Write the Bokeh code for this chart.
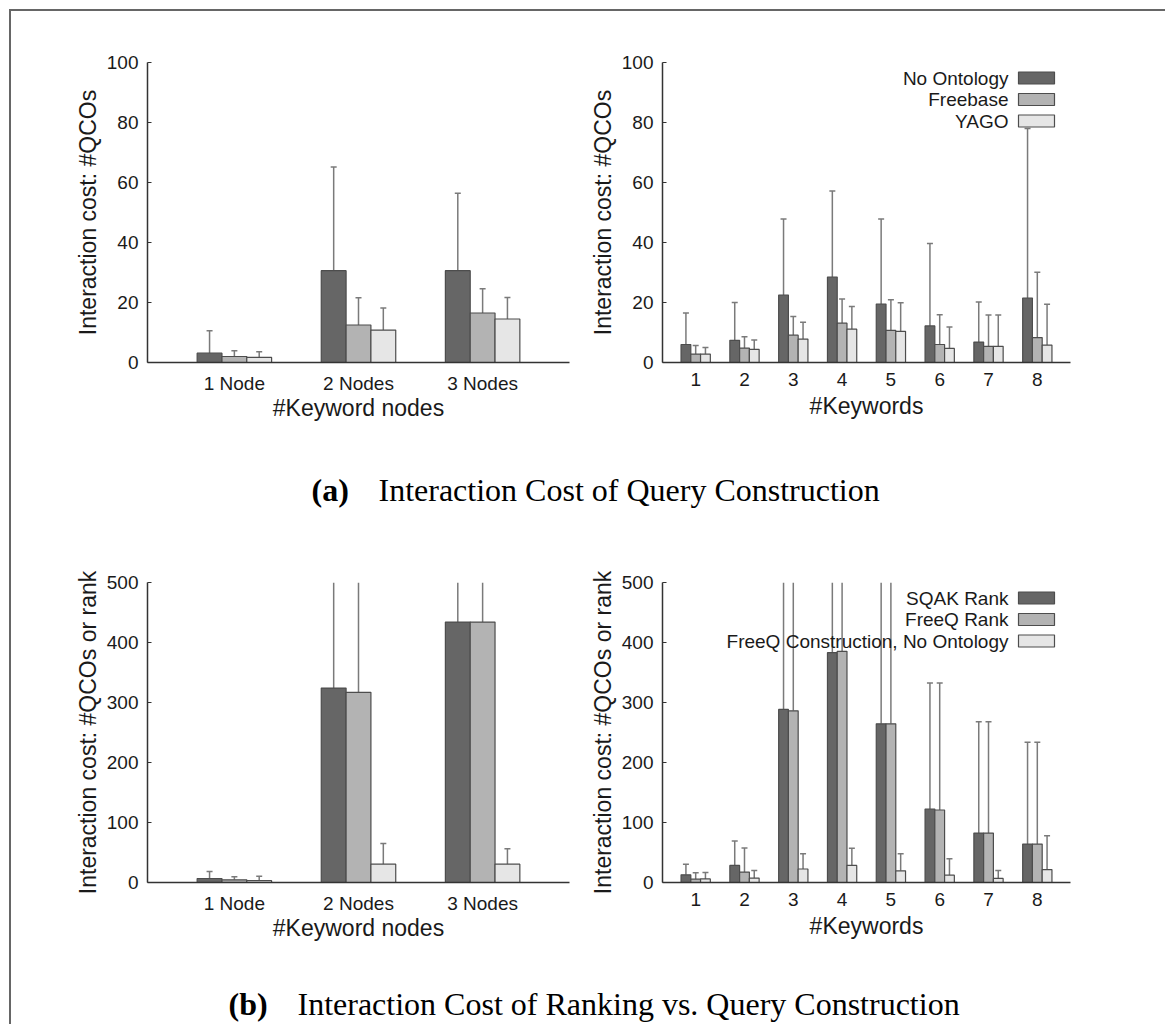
from bokeh.embed import file_html
from bokeh.layouts import column, row
from bokeh.models import FixedTicker, Label, Range1d
from bokeh.plotting import figure
from bokeh.resources import INLINE

# ---------------------------------------------------------------- data
node_labels = ["1 Node", "2 Nodes", "3 Nodes"]
keyword_labels = ["1", "2", "3", "4", "5", "6", "7", "8"]

construction_series = ["No Ontology", "Freebase", "YAGO"]
ranking_series = ["SQAK Rank", "FreeQ Rank", "FreeQ Construction, No Ontology"]

# query construction cost (#QCOs): mean and upper end of the error bar
nodes_no_ontology = [3.1, 30.6, 30.6]
nodes_no_ontology_hi = [10.6, 65.2, 56.4]
nodes_freebase = [2.0, 12.5, 16.5]
nodes_freebase_hi = [3.9, 21.6, 24.6]
nodes_yago = [1.7, 10.8, 14.5]
nodes_yago_hi = [3.6, 18.2, 21.7]

kw_no_ontology = [6.0, 7.4, 22.5, 28.5, 19.5, 12.2, 6.8, 21.5]
kw_no_ontology_hi = [16.5, 20.0, 47.8, 57.2, 47.8, 39.7, 20.2, 78.0]
kw_freebase = [2.8, 4.8, 9.1, 13.1, 10.7, 6.0, 5.4, 8.3]
kw_freebase_hi = [5.7, 8.6, 15.3, 21.2, 20.9, 15.9, 15.8, 30.1]
kw_yago = [2.8, 4.4, 7.8, 11.1, 10.4, 4.7, 5.4, 5.8]
kw_yago_hi = [5.0, 7.5, 13.4, 18.7, 19.9, 11.8, 15.8, 19.4]

# rank of the intended query; upper bounds of 500 run off the top of the axis
nodes_sqak_rank = [6.7, 324.0, 434.0]
nodes_sqak_rank_hi = [18.4, 500.0, 500.0]
nodes_freeq_rank = [4.5, 317.0, 434.0]
nodes_freeq_rank_hi = [9.5, 500.0, 500.0]

kw_sqak_rank = [12.8, 28.4, 288.4, 383.1, 264.5, 122.5, 82.4, 64.0]
kw_sqak_rank_hi = [30.6, 69.0, 500.0, 500.0, 500.0, 332.4, 267.8, 233.9]
kw_freeq_rank = [5.6, 17.3, 286.2, 385.3, 264.5, 120.8, 82.4, 64.0]
kw_freeq_rank_hi = [16.1, 57.3, 500.0, 500.0, 500.0, 332.4, 267.8, 233.9]

# ---------------------------------------------------------------- style
FILLS = ["#666666", "#b3b3b3", "#e6e6e6"]
EDGE = "#4d4d4d"
ERR = "#7a7a7a"
AXIS = "#333333"
TEXT = "#1a1a1a"
SANS = "Liberation Sans"
SERIF = "Liberation Serif"
FRAME_H = 300
BAR_W = 0.2


def panel(labels, means, highs, y_max, y_step, y_label, x_label, x_range,
          frame_w, border_l, border_r, border_t, x_label_gap, legend=None):
    n = len(labels)
    p = figure(frame_width=frame_w, frame_height=FRAME_H,
               x_range=Range1d(*x_range), y_range=Range1d(0, y_max),
               output_backend="svg", toolbar_location=None,
               min_border_left=border_l, min_border_right=border_r,
               min_border_top=border_t, min_border_bottom=58)
    p.outline_line_color = None
    p.grid.visible = False
    p.background_fill_color = "white"
    p.border_fill_color = "white"

    for k, (m, h) in enumerate(zip(means, highs)):
        xs = [i + 1 + (k - 1) * BAR_W for i in range(n)]
        tops = [min(v, y_max) for v in h]
        p.segment(x0=xs, y0=m, x1=xs, y1=tops, line_color=ERR, line_width=1.5)
        cap_x = [x for x, v in zip(xs, h) if v < y_max]
        cap_y = [v for v in h if v < y_max]
        p.scatter(cap_x, cap_y, marker="dash", size=6, line_color=ERR, line_width=1.5)
        p.vbar(x=xs, top=m, bottom=0, width=BAR_W, fill_color=FILLS[k],
               line_color=EDGE, line_width=1.2)

    xa = p.xaxis[0]
    xa.ticker = FixedTicker(ticks=list(range(1, n + 1)))
    xa.major_label_overrides = {i + 1: lab for i, lab in enumerate(labels)}
    xa.major_tick_line_color = None
    xa.minor_tick_line_color = None
    xa.axis_line_color = AXIS
    xa.axis_line_width = 1.5
    xa.major_label_standoff = 4
    xa.major_label_text_font = SANS
    xa.major_label_text_font_size = "19px"
    xa.major_label_text_color = TEXT
    xa.axis_label = x_label
    xa.axis_label_standoff = x_label_gap
    xa.axis_label_text_font = SANS
    xa.axis_label_text_font_size = "23px"
    xa.axis_label_text_font_style = "normal"
    xa.axis_label_text_color = TEXT

    ya = p.yaxis[0]
    ya.ticker = FixedTicker(ticks=list(range(0, y_max + 1, y_step)))
    ya.major_tick_in = 4
    ya.major_tick_out = 0
    ya.major_tick_line_color = AXIS
    ya.major_tick_line_width = 1.2
    ya.minor_tick_line_color = None
    ya.axis_line_color = AXIS
    ya.axis_line_width = 1.5
    ya.major_label_standoff = 9
    ya.major_label_text_font = SANS
    ya.major_label_text_font_size = "19px"
    ya.major_label_text_color = TEXT
    ya.axis_label = y_label
    ya.axis_label_standoff = 3
    ya.axis_label_text_font = SANS
    ya.axis_label_text_font_size = "23px"
    ya.axis_label_text_font_style = "normal"
    ya.axis_label_text_color = TEXT

    if legend:
        x0, x1 = x_range
        sx = (x1 - x0) / frame_w
        sy = y_max / FRAME_H
        for k, (name, off) in enumerate(zip(legend, [15.5, 37.0, 58.5])):
            yc = y_max - off * sy
            p.add_layout(Label(x=x0 + 346 * sx, y=yc, text=name, text_align="right",
                               text_baseline="middle", text_font=SANS,
                               text_font_size="19px", text_color=TEXT))
            p.quad(left=x0 + 356 * sx, right=x0 + 392 * sx,
                   bottom=yc - 6 * sy, top=yc + 6 * sy,
                   fill_color=FILLS[k], line_color=EDGE, line_width=1.2)
    return p


def caption(tag, text, tag_x, text_x, height, yc):
    c = figure(width=1154, height=height, x_range=Range1d(0, 1154),
               y_range=Range1d(height, 0), output_backend="svg",
               toolbar_location=None, min_border=0,
               x_axis_type=None, y_axis_type=None)
    c.outline_line_color = None
    c.grid.visible = False
    c.add_layout(Label(x=tag_x, y=yc, text=tag, text_font=SERIF,
                       text_font_style="bold", text_font_size="32px",
                       text_baseline="middle", text_color="#000000"))
    c.add_layout(Label(x=text_x, y=yc, text=text, text_font=SERIF,
                       text_font_size="32px", text_baseline="middle",
                       text_color="#000000"))
    return c


LEFT_X = (0.3, 3.7)
RIGHT_X = (0.32, 8.68)
QCO = "Interaction cost: #QCOs"
RANK = "Interaction cost: #QCOs or rank"

p_a1 = panel(node_labels,
             [nodes_no_ontology, nodes_freebase, nodes_yago],
             [nodes_no_ontology_hi, nodes_freebase_hi, nodes_yago_hi],
             100, 20, QCO, "#Keyword nodes", LEFT_X, 422, 136, 16, 51, -2)
p_a2 = panel(keyword_labels,
             [kw_no_ontology, kw_freebase, kw_yago],
             [kw_no_ontology_hi, kw_freebase_hi, kw_yago_hi],
             100, 20, QCO, "#Keywords", RIGHT_X, 408, 77, 95, 51, 4,
             legend=construction_series)

cap_a = caption("(a)", "Interaction Cost of Query Construction", 300, 367, 110, 66)

p_b1 = panel(node_labels,
             [nodes_sqak_rank, nodes_freeq_rank, nodes_no_ontology],
             [nodes_sqak_rank_hi, nodes_freeq_rank_hi, nodes_no_ontology_hi],
             500, 100, RANK, "#Keyword nodes", LEFT_X, 422, 136, 16, 49, -2)
p_b2 = panel(keyword_labels,
             [kw_sqak_rank, kw_freeq_rank, kw_no_ontology],
             [kw_sqak_rank_hi, kw_freeq_rank_hi, kw_no_ontology_hi],
             500, 100, RANK, "#Keywords", RIGHT_X, 408, 77, 95, 49, 4,
             legend=ranking_series)

cap_b = caption("(b)", "Interaction Cost of Ranking vs. Query Construction", 217, 286, 87, 60)

layout = column(row(p_a1, p_a2), cap_a, row(p_b1, p_b2), cap_b,
                margin=(9, 0, 0, 9),
                styles={"border-top": "2px solid #666666",
                        "border-left": "2px solid #666666"})

open("out.html", "w").write(file_html(layout, INLINE))
